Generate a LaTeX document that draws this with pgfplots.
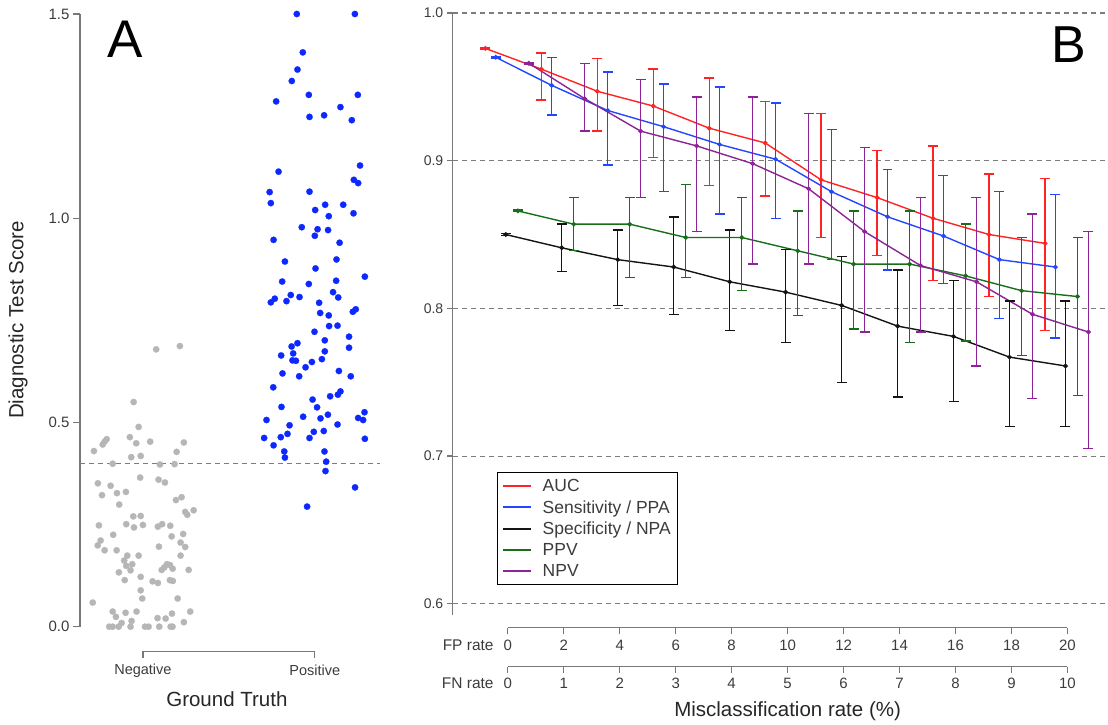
\documentclass[border=0pt]{standalone}
\usepackage{pgfplots}
\pgfplotsset{compat=1.18}
\usepackage{pgfplotstable}
\usepackage{fontspec}
\setmainfont{Liberation Sans}

\definecolor{ptblue}{RGB}{12,40,255}
\definecolor{ptgray}{RGB}{182,182,182}
\definecolor{axgray}{RGB}{120,120,120}
\definecolor{txtgray}{RGB}{60,60,60}
\definecolor{gridgray}{RGB}{125,125,125}
\definecolor{cauc}{RGB}{255,35,35}
\definecolor{csens}{RGB}{35,70,255}
\definecolor{cspec}{RGB}{20,20,20}
\definecolor{cppv}{RGB}{25,110,25}
\definecolor{cnpv}{RGB}{140,35,150}

% panel A: jittered scores (x = group position 1/2 with jitter)
\pgfplotstableread{
x y
1.077 0.679
1.215 0.687
0.946 0.550
0.975 0.489
0.789 0.459
0.777 0.453
0.766 0.446
0.715 0.430
0.924 0.464
0.961 0.449
1.042 0.453
1.238 0.451
0.932 0.415
0.987 0.418
1.196 0.428
0.824 0.399
1.099 0.397
1.184 0.398
0.984 0.365
1.091 0.360
1.128 0.353
0.738 0.351
0.812 0.345
0.849 0.327
0.901 0.330
0.762 0.322
0.862 0.299
1.192 0.310
1.225 0.317
1.246 0.281
1.258 0.274
1.295 0.285
0.944 0.270
0.987 0.271
0.744 0.248
0.903 0.251
0.948 0.243
1.000 0.249
1.087 0.245
1.112 0.251
1.159 0.247
0.827 0.225
1.167 0.221
1.234 0.227
0.754 0.211
0.737 0.199
1.219 0.206
1.246 0.195
1.093 0.196
0.777 0.187
0.847 0.187
0.975 0.174
0.909 0.174
1.219 0.174
0.891 0.162
0.938 0.153
0.903 0.149
1.140 0.153
1.157 0.151
1.124 0.145
1.109 0.139
1.173 0.142
1.266 0.139
0.928 0.138
0.860 0.133
0.987 0.122
0.894 0.114
1.056 0.111
1.087 0.107
1.157 0.114
1.174 0.112
0.987 0.089
0.996 0.069
1.202 0.069
0.708 0.059
0.824 0.037
0.899 0.034
0.963 0.037
1.169 0.032
1.275 0.037
0.843 0.024
1.085 0.021
1.132 0.020
0.876 0.009
0.934 0.014
1.238 0.011
0.804 0.000
0.824 0.000
0.859 0.000
0.928 0.000
1.012 0.000
1.033 0.000
1.095 0.000
1.161 0.000
1.172 0.000
}\negdata

\pgfplotstableread{
x y
1.895 1.500
2.233 1.500
1.930 1.406
1.899 1.364
1.866 1.336
1.965 1.302
2.250 1.302
1.775 1.286
2.149 1.272
1.969 1.248
2.054 1.252
2.215 1.240
2.263 1.129
1.789 1.114
2.227 1.094
2.252 1.086
1.737 1.064
1.969 1.065
1.744 1.037
2.060 1.033
2.165 1.033
2.002 1.020
2.225 1.012
2.081 1.005
1.924 0.978
2.016 0.973
2.077 0.971
2.000 0.957
1.760 0.947
2.144 0.940
1.826 0.894
2.126 0.899
2.004 0.877
1.810 0.845
1.965 0.839
2.124 0.847
2.291 0.857
2.106 0.819
1.860 0.812
1.911 0.807
2.136 0.806
1.767 0.803
1.744 0.794
1.835 0.797
2.025 0.793
2.031 0.768
2.081 0.762
2.238 0.777
2.221 0.771
2.083 0.736
2.132 0.737
1.998 0.722
2.199 0.710
2.058 0.701
1.899 0.694
1.865 0.686
2.199 0.683
1.804 0.664
1.874 0.669
2.058 0.674
1.870 0.652
1.890 0.651
1.983 0.648
2.041 0.655
1.946 0.635
1.812 0.620
1.909 0.613
2.140 0.626
2.209 0.613
1.758 0.586
2.089 0.564
2.134 0.568
2.149 0.576
1.987 0.556
1.806 0.538
2.013 0.537
1.719 0.506
1.932 0.514
2.033 0.510
2.076 0.519
2.252 0.511
2.281 0.506
2.289 0.525
1.853 0.493
2.132 0.495
1.994 0.477
2.052 0.479
1.841 0.472
1.802 0.464
1.705 0.462
1.969 0.462
2.291 0.460
1.760 0.444
1.822 0.429
2.056 0.429
1.826 0.414
2.066 0.404
2.062 0.381
2.234 0.341
1.955 0.294
}\posdata

% panel B: metric vs FP rate (x already shifted per series; mean, upper, lower)
\pgfplotstableread{
x y hi lo
-0.8 0.976 0.9765 0.9755
1.2 0.962 0.973 0.941
3.2 0.947 0.969 0.920
5.2 0.937 0.962 0.902
7.2 0.922 0.956 0.883
9.2 0.912 0.940 0.876
11.2 0.887 0.932 0.848
13.2 0.875 0.907 0.836
15.2 0.861 0.910 0.819
17.2 0.850 0.891 0.808
19.2 0.844 0.888 0.785
}\auc
\pgfplotstableread{
x y hi lo
-0.43 0.970 0.9705 0.9695
1.57 0.951 0.970 0.931
3.57 0.934 0.960 0.897
5.57 0.923 0.952 0.879
7.57 0.911 0.950 0.864
9.57 0.901 0.939 0.861
11.57 0.879 0.921 0.833
13.57 0.862 0.894 0.826
15.57 0.849 0.890 0.817
17.57 0.833 0.879 0.793
19.57 0.828 0.877 0.780
}\sens
\pgfplotstableread{
x y hi lo
-0.07 0.850 0.8505 0.8495
1.93 0.841 0.857 0.825
3.93 0.833 0.853 0.802
5.93 0.828 0.862 0.796
7.93 0.818 0.853 0.785
9.93 0.811 0.840 0.777
11.93 0.802 0.835 0.750
13.93 0.788 0.826 0.740
15.93 0.781 0.819 0.737
17.93 0.767 0.805 0.720
19.93 0.761 0.805 0.720
}\spec
\pgfplotstableread{
x y hi lo
0.36 0.866 0.8665 0.8655
2.36 0.857 0.875 0.839
4.36 0.857 0.875 0.821
6.36 0.848 0.884 0.821
8.36 0.848 0.875 0.812
10.36 0.839 0.866 0.795
12.36 0.830 0.866 0.786
14.36 0.830 0.866 0.777
16.36 0.822 0.857 0.778
18.36 0.812 0.848 0.768
20.36 0.808 0.848 0.741
}\ppv
\pgfplotstableread{
x y hi lo
0.75 0.966 0.9665 0.9655
2.75 0.942 0.966 0.920
4.75 0.920 0.955 0.875
6.75 0.910 0.943 0.852
8.75 0.898 0.943 0.830
10.75 0.881 0.932 0.830
12.75 0.852 0.909 0.784
14.75 0.829 0.875 0.784
16.75 0.818 0.875 0.761
18.75 0.796 0.864 0.739
20.75 0.784 0.852 0.705
}\npv

\pgfplotsset{
  ebar/.style={forget plot, color=#1, line width=1.4pt, mark=none,
    quiver={u=0, v=\thisrow{hi}-\thisrow{lo}}},
  ecap/.style={forget plot, only marks, color=#1, mark=-, mark size=5pt,
    mark options={line width=1.4pt}},
  eline/.style={forget plot, color=#1, line width=1.4pt, mark=*, mark size=1.6pt},
}

\begin{document}
\begin{tikzpicture}
% page frame, 1108 x 725
\path (0pt,0pt) rectangle (1108pt,725pt);

% ---------------- panel A ----------------
\begin{axis}[
  at={(80pt,98pt)}, anchor=south west, scale only axis,
  width=300pt, height=613pt,
  xmin=0.6337, xmax=2.378, ymin=0, ymax=1.5,
  axis x line=none, axis y line*=left,
  axis line style={draw=axgray, line width=1.3pt},
  ytick={0,0.5,1,1.5}, yticklabels={0.0,0.5,1.0,1.5},
  tick align=outside, major tick length=7pt,
  tick style={draw=axgray, line width=1.3pt},
  yticklabel style={font=\fontsize{15}{18}\selectfont, text=txtgray},
  clip=false,
]
\draw[gridgray, line width=1.1pt, dash pattern=on 5pt off 4pt]
  (axis cs:0.6337,0.4) -- (axis cs:2.378,0.4);
\addplot[only marks, color=ptgray, mark=*, mark size=3.2pt, line width=0.2pt] table {\negdata};
\addplot[only marks, color=ptblue, mark=*, mark size=3.2pt, line width=0.2pt] table {\posdata};
\end{axis}

% ---------------- panel B ----------------
\begin{axis}[
  at={(453pt,110pt)}, anchor=south west, scale only axis,
  width=655pt, height=602pt,
  xmin=-1.964, xmax=21.43, ymin=0.5926, ymax=1.0,
  axis x line=none, axis y line*=left,
  axis line style={draw=axgray, line width=1.3pt},
  xtick=\empty,
  ytick={0.6,0.7,0.8,0.9,1.0}, yticklabels={0.6,0.7,0.8,0.9,1.0},
  tick align=outside, major tick length=6pt,
  tick style={draw=axgray, line width=1.3pt},
  yticklabel style={font=\fontsize{14}{17}\selectfont, text=txtgray},
  ymajorgrids,
  major grid style={draw=gridgray, line width=1.1pt, dash pattern=on 5pt off 4pt},
  clip=false,
  legend style={at={(axis cs:-0.393,0.6893)}, anchor=north west,
    draw=black, line width=1pt, fill=white,
    font=\fontsize{17.5}{20}\selectfont, text=txtgray,
    inner xsep=5pt, inner ysep=5pt, row sep=3.3pt},
  legend cell align=left,
  legend image code/.code={\draw[#1, line width=2pt] (0pt,0pt) -- (28pt,0pt); \path (37pt,0pt);},
]
% AUC
\addplot[ebar=cauc] table[x=x, y=lo] {\auc};
\addplot[ecap=cauc] table[x=x, y=hi] {\auc};
\addplot[ecap=cauc] table[x=x, y=lo] {\auc};
\addplot[eline=cauc] table[x=x, y=y] {\auc};
% Sensitivity / PPA
\addplot[ebar=csens] table[x=x, y=lo] {\sens};
\addplot[ecap=csens] table[x=x, y=hi] {\sens};
\addplot[ecap=csens] table[x=x, y=lo] {\sens};
\addplot[eline=csens] table[x=x, y=y] {\sens};
% Specificity / NPA
\addplot[ebar=cspec] table[x=x, y=lo] {\spec};
\addplot[ecap=cspec] table[x=x, y=hi] {\spec};
\addplot[ecap=cspec] table[x=x, y=lo] {\spec};
\addplot[eline=cspec] table[x=x, y=y] {\spec};
% PPV
\addplot[ebar=cppv] table[x=x, y=lo] {\ppv};
\addplot[ecap=cppv] table[x=x, y=hi] {\ppv};
\addplot[ecap=cppv] table[x=x, y=lo] {\ppv};
\addplot[eline=cppv] table[x=x, y=y] {\ppv};
% NPV
\addplot[ebar=cnpv] table[x=x, y=lo] {\npv};
\addplot[ecap=cnpv] table[x=x, y=hi] {\npv};
\addplot[ecap=cnpv] table[x=x, y=lo] {\npv};
\addplot[eline=cnpv] table[x=x, y=y] {\npv};

\addlegendimage{cauc}\addlegendentry{AUC}
\addlegendimage{csens}\addlegendentry{Sensitivity / PPA}
\addlegendimage{cspec}\addlegendentry{Specificity / NPA}
\addlegendimage{cppv}\addlegendentry{PPV}
\addlegendimage{cnpv}\addlegendentry{NPV}
\end{axis}

\begin{scope}[x=1pt, y=1pt, every node/.style={inner sep=0pt}]
% group axis (bracket) for panel A
\draw[axgray, line width=1.3pt] (143,67) -- (143,73) -- (315,73) -- (315,67);
\node[font=\fontsize{14.5}{17}\selectfont, text=txtgray] at (143,54) {Negative};
\node[font=\fontsize{14.5}{17}\selectfont, text=txtgray] at (315,54) {Positive};
\node[font=\fontsize{20.5}{24}\selectfont, text=black!85] at (227,25) {Ground Truth};
\node[rotate=90, font=\fontsize{20.5}{24}\selectfont, text=black!85] at (18,405) {Diagnostic Test Score};
\node[font=\fontsize{53}{60}\selectfont] at (125,686) {A};
\node[font=\fontsize{52}{60}\selectfont] at (1069,680) {B};

% FP / FN rate scales
\draw[axgray, line width=1.3pt] (508,97) -- (1068,97);
\draw[axgray, line width=1.3pt] (508,58) -- (1068,58);
\foreach \i in {0,...,10} {
  \draw[axgray, line width=1.3pt] (508+56*\i,97) -- ++(0,-6);
  \draw[axgray, line width=1.3pt] (508+56*\i,58) -- ++(0,-6);
  \pgfmathtruncatemacro{\fp}{2*\i}
  \node[font=\fontsize{15}{18}\selectfont, text=txtgray] at (508+56*\i,79) {\fp};
  \node[font=\fontsize{15}{18}\selectfont, text=txtgray] at (508+56*\i,41) {\i};
}
\node[anchor=east, font=\fontsize{15.5}{18}\selectfont, text=txtgray] at (494,79) {FP rate};
\node[anchor=east, font=\fontsize{15.5}{18}\selectfont, text=txtgray] at (494,41) {FN rate};
\node[font=\fontsize{20.5}{24}\selectfont, text=black!85] at (788,13) {Misclassification rate (\%)};
\end{scope}
\end{tikzpicture}
\end{document}
